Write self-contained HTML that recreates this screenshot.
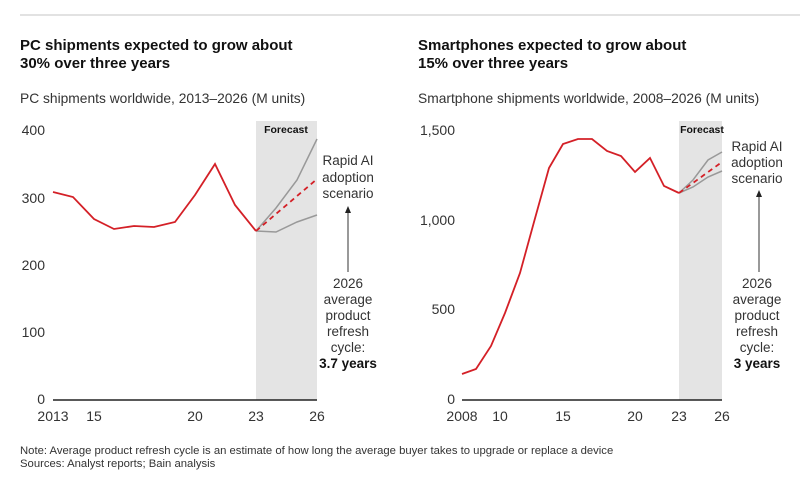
<!DOCTYPE html>
<html><head><meta charset="utf-8"><style>
body{margin:0;background:#fff}
svg{display:block;font-family:"Liberation Sans",sans-serif}
</style></head><body>
<svg width="800" height="499" viewBox="0 0 800 499" xmlns="http://www.w3.org/2000/svg">
<rect width="800" height="499" fill="#fff"/>
<line x1="20" y1="15" x2="800" y2="15" stroke="#e2e2e2" stroke-width="2"/>
<g font-weight="bold" font-size="15" fill="#111">
<text x="20" y="50">PC shipments expected to grow about</text>
<text x="20" y="68">30% over three years</text>
<text x="418" y="50">Smartphones expected to grow about</text>
<text x="418" y="68">15% over three years</text>
</g>
<g font-size="13.8" fill="#333">
<text x="20" y="103">PC shipments worldwide, 2013–2026 (M units)</text>
<text x="418" y="103">Smartphone shipments worldwide, 2008–2026 (M units)</text>
</g>
<!-- left chart -->
<rect x="256" y="121" width="61" height="279" fill="#e4e4e4"/>
<text x="286" y="133" font-size="10.5" font-weight="bold" text-anchor="middle" fill="#111">Forecast</text>
<g font-size="14" fill="#333" text-anchor="end">
<text x="45" y="135">400</text><text x="45" y="203">300</text><text x="45" y="270">200</text><text x="45" y="337">100</text><text x="45" y="404">0</text>
</g>
<line x1="53" y1="400" x2="317" y2="400" stroke="#222" stroke-width="1.5"/>
<g font-size="14" fill="#333" text-anchor="middle">
<text x="53" y="421">2013</text><text x="94" y="421">15</text><text x="195" y="421">20</text><text x="256" y="421">23</text><text x="317" y="421">26</text>
</g>
<polyline fill="none" stroke="#999" stroke-width="1.5" points="256,231 276,208 297,180 317,139"/>
<polyline fill="none" stroke="#999" stroke-width="1.5" points="256,231 276,232 297,222 317,215"/>
<polyline fill="none" stroke="#d42027" stroke-width="1.8" stroke-dasharray="5,4" points="256,231 317,179"/>
<polyline fill="none" stroke="#d42027" stroke-width="1.8" points="53,192 73,197 94,219 114,229 134,226 154,227 175,222 195,195 215,164 235,205 256,231"/>
<g font-size="13.5" fill="#333" text-anchor="middle">
<text x="348" y="165">Rapid AI</text><text x="348" y="182">adoption</text><text x="348" y="198">scenario</text>
<text x="348" y="288">2026</text><text x="348" y="304">average</text><text x="348" y="320">product</text><text x="348" y="336">refresh</text><text x="348" y="352">cycle:</text>
<text x="348" y="368" font-weight="bold" fill="#111">3.7 years</text>
</g>
<line x1="348" y1="272" x2="348" y2="212" stroke="#333" stroke-width="1"/>
<polygon points="345,213 351,213 348,206" fill="#222"/>
<!-- right chart -->
<rect x="679" y="121" width="43" height="279" fill="#e4e4e4"/>
<text x="702" y="133" font-size="10.5" font-weight="bold" text-anchor="middle" fill="#111">Forecast</text>
<g font-size="14" fill="#333" text-anchor="end">
<text x="455" y="135">1,500</text><text x="455" y="225">1,000</text><text x="455" y="314">500</text><text x="455" y="404">0</text>
</g>
<line x1="462" y1="400" x2="722" y2="400" stroke="#222" stroke-width="1.5"/>
<g font-size="14" fill="#333" text-anchor="middle">
<text x="462" y="421">2008</text><text x="500" y="421">10</text><text x="563" y="421">15</text><text x="635" y="421">20</text><text x="679" y="421">23</text><text x="722" y="421">26</text>
</g>
<polyline fill="none" stroke="#999" stroke-width="1.5" points="679,193 693,180 708,160 722,152"/>
<polyline fill="none" stroke="#999" stroke-width="1.5" points="679,193 693,187 708,177 722,171"/>
<polyline fill="none" stroke="#d42027" stroke-width="1.8" stroke-dasharray="5,4" points="679,193 722,162"/>
<polyline fill="none" stroke="#d42027" stroke-width="1.8" points="462,374 476,369 491,346 505,313 520,273 534,222 549,168 563,144 578,139 592,139 607,151 621,156 635,172 650,158 664,186 679,193"/>
<g font-size="13.5" fill="#333" text-anchor="middle">
<text x="757" y="151">Rapid AI</text><text x="757" y="167">adoption</text><text x="757" y="183">scenario</text>
<text x="757" y="288">2026</text><text x="757" y="304">average</text><text x="757" y="320">product</text><text x="757" y="336">refresh</text><text x="757" y="352">cycle:</text>
<text x="757" y="368" font-weight="bold" fill="#111">3 years</text>
</g>
<line x1="759" y1="272" x2="759" y2="196" stroke="#333" stroke-width="1"/>
<polygon points="756,197 762,197 759,190" fill="#222"/>
<g font-size="11.3" fill="#333">
<text x="20" y="454">Note: Average product refresh cycle is an estimate of how long the average buyer takes to upgrade or replace a device</text>
<text x="20" y="467">Sources: Analyst reports; Bain analysis</text>
</g>
</svg>
</body></html>
